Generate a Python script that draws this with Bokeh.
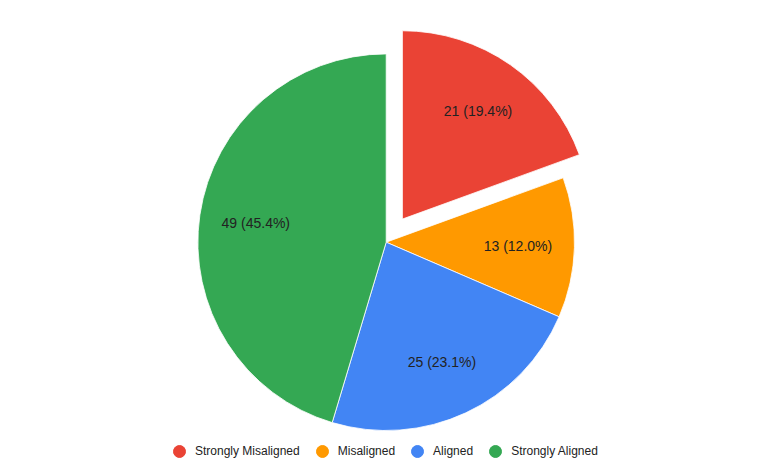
import math
from bokeh.plotting import figure
from bokeh.models import Range1d, ColumnDataSource, Legend, LegendItem
from bokeh.core.properties import value
from bokeh.embed import file_html
from bokeh.resources import INLINE

# ---- data ----
categories = ["Strongly Misaligned", "Misaligned", "Aligned", "Strongly Aligned"]
counts = [21, 13, 25, 49]
colors = ["#EA4335", "#FF9900", "#4285F4", "#34A853"]
explode = [0.15, 0.0, 0.0, 0.0]

# ---- layout / style ----
W, H = 771, 476
CX, CY = 385.7, 234.3
R = 188.3
LABEL_R = 0.7
FONT = "Liberation Sans"

total = sum(counts)
starts, ends, xs, ys, lx, ly, labels = [], [], [], [], [], [], []
cum = 0.0
for c, e in zip(counts, explode):
    a0 = math.pi / 2 - 2 * math.pi * cum / total
    cum += c
    a1 = math.pi / 2 - 2 * math.pi * cum / total
    mid = (a0 + a1) / 2
    cx = CX + e * R * math.cos(mid)
    cy = CY + e * R * math.sin(mid)
    starts.append(a1)
    ends.append(a0)
    xs.append(cx)
    ys.append(cy)
    lx.append(cx + LABEL_R * R * math.cos(mid))
    ly.append(cy + LABEL_R * R * math.sin(mid))
    labels.append(f"{c} ({100 * c / total:.1f}%)")

src = ColumnDataSource(dict(x=xs, y=ys, start=starts, end=ends, color=colors,
                            lx=lx, ly=ly, label=labels, cat=categories))

p = figure(width=W, height=H, output_backend="svg", toolbar_location=None,
           x_range=Range1d(0, W), y_range=Range1d(0, H),
           min_border=0, min_border_left=0, min_border_right=0,
           min_border_top=0, min_border_bottom=0)
p.axis.visible = False
p.grid.visible = False
p.outline_line_color = None
p.background_fill_color = "white"
p.border_fill_color = "white"

p.wedge(x="x", y="y", radius=R, start_angle="start", end_angle="end",
        fill_color="color", line_color="white", line_width=0.8, source=src)

p.text(x="lx", y="ly", text="label", source=src, text_align="center",
       text_baseline="middle", text_font=value(FONT), text_font_size="14px",
       text_color="#222222")

# legend proxies (points placed outside the visible range)
items = []
for cat, col in zip(categories, colors):
    r = p.scatter(x=[-1000], y=[-1000], size=12, fill_color=col, line_color=col)
    items.append(LegendItem(label=cat, renderers=[r]))

legend = Legend(items=items, orientation="horizontal", location=(164, 10),
                glyph_width=30, glyph_height=30, label_standoff=1, spacing=7,
                padding=3, margin=0, border_line_color=None,
                background_fill_alpha=0,
                label_text_font=FONT, label_text_font_size="12px",
                label_text_color="#222222")
p.add_layout(legend)

open("out.html", "w").write(file_html(p, INLINE))
